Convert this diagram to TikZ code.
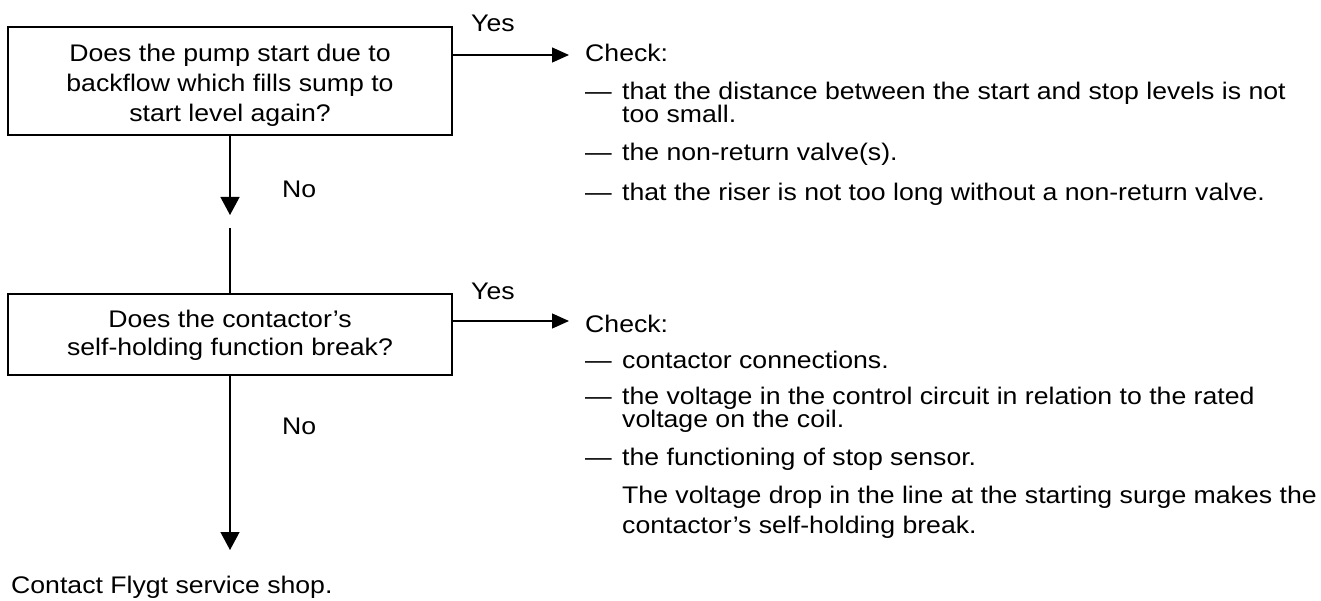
\documentclass[tikz,border=0pt]{standalone}
\usepackage{fontspec}
\setmainfont{Liberation Sans}[FakeStretch=1.11]
\usetikzlibrary{arrows.meta}
\newcommand\qline[1]{\hbox to 444pt{\hfil#1\hfil}}
\newcommand\lline[1]{\hbox{#1}}
\newcommand\ditem[1]{\hbox{\makebox[37pt][l]{—}#1}}
\newcommand\cont[1]{\hbox{\hspace{37pt}#1}}
\newcommand\stack[2]{\vtop{\baselineskip=#1\lineskiplimit=-100pt\lineskip=0pt #2}}
\begin{document}
\begin{tikzpicture}[x=1pt,y=-1pt,
  every node/.style={inner sep=0pt, font=\fontsize{24pt}{24pt}\selectfont},
  qbox/.style={draw, line width=1.3pt, minimum width=444pt, anchor=base},
  lbl/.style={anchor=base west},
  link/.style={line width=1.3pt},
  rarr/.style={link, -{Triangle[length=17pt,width=15pt]}},
  darr/.style={link, -{Triangle[length=18pt,width=19pt]}}]
\useasboundingbox (0,0) rectangle (1321,601);
% question boxes
\node[qbox, text height=35pt, text depth=73pt] (q1) at (230,62)
  {\stack{30pt}{\qline{Does the pump start due to}\qline{backflow which fills sump to}\qline{start level again?}}};
\node[qbox, text height=33pt, text depth=48pt] (q2) at (230,327)
  {\stack{28.5pt}{\qline{Does the contactor’s}\qline{self-holding function break?}}};
% check lists
\node[lbl] (c1) at (585,62)
  {\stack{23pt}{\lline{Check:}\vskip15pt
   \ditem{that the distance between the start and stop levels is not}
   \cont{too small.}\vskip15pt
   \ditem{the non-return valve(s).}\vskip17pt
   \ditem{that the riser is not too long without a non-return valve.}}};
\node[lbl] (c2) at (585,332)
  {\stack{23pt}{\lline{Check:}\vskip13pt
   \ditem{contactor connections.}\vskip13pt
   \ditem{the voltage in the control circuit in relation to the rated}
   \cont{voltage on the coil.}\vskip15pt
   \ditem{the functioning of stop sensor.}\vskip15pt
   \cont{The voltage drop in the line at the starting surge makes the}\vskip7pt
   \cont{contactor’s self-holding break.}}};
\node[lbl] (c3) at (11,593) {Contact Flygt service shop.};
% labels
\node[lbl] (yes1) at (471,32) {Yes};
\node[lbl] (yes2) at (471,300) {Yes};
\node[lbl] (no1) at (282,198) {No};
\node[lbl] (no2) at (282,434) {No};
% connectors
\coordinate (y1) at (0,55);
\coordinate (y2) at (0,321);
\coordinate (d1) at (230,215);
\coordinate (g1) at (230,228);
\coordinate (d2) at (230,550);
\draw[rarr] (q1.east |- y1) -- ([xshift=-16pt]c1.west |- y1);
\draw[rarr] (q2.east |- y2) -- ([xshift=-16pt]c2.west |- y2);
\draw[darr] (q1.south) -- (d1);
\draw[link] (g1) -- (q2.north);
\draw[darr] (q2.south) -- (d2);
\end{tikzpicture}
\end{document}
